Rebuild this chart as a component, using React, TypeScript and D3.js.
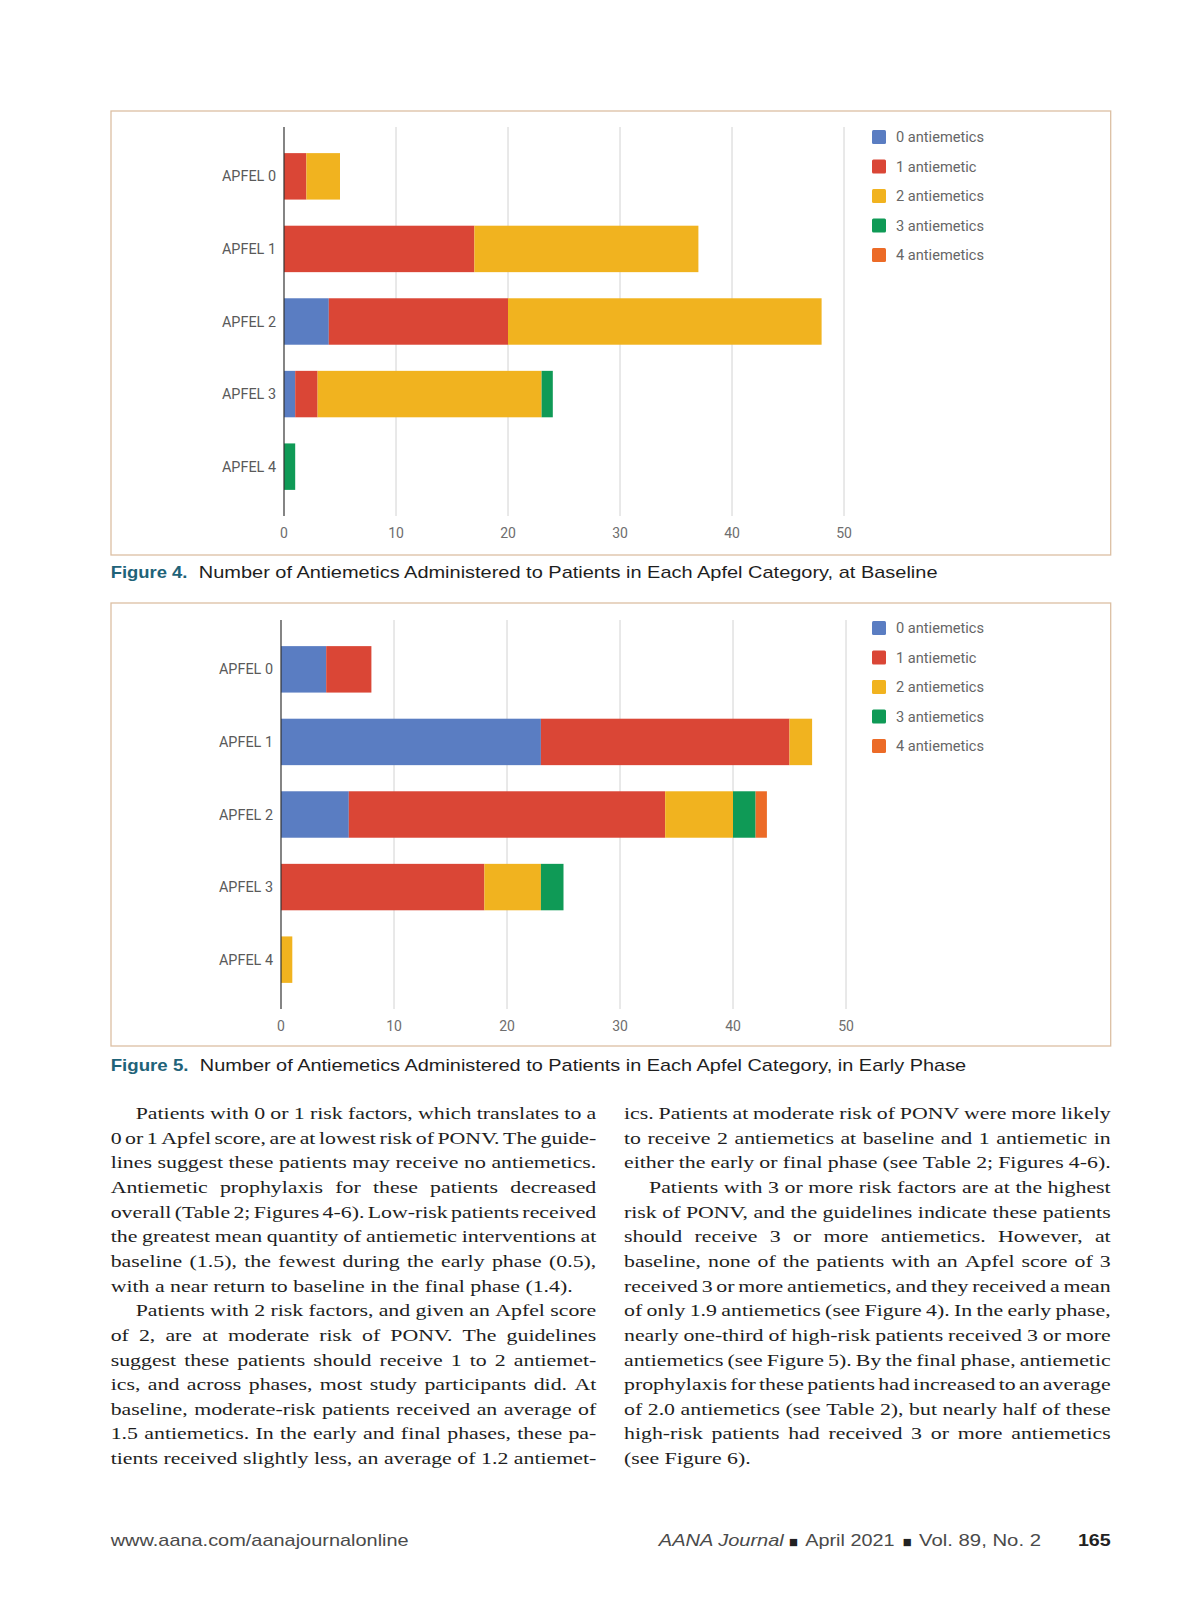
import * as React from 'react';
import * as d3 from 'd3';

// categories and series shared by both figures
const categories = ['APFEL 0', 'APFEL 1', 'APFEL 2', 'APFEL 3', 'APFEL 4'];
const seriesNames = ['0 antiemetics', '1 antiemetic', '2 antiemetics', '3 antiemetics', '4 antiemetics'];
const seriesColors = ['#5a7dc2', '#da4636', '#f1b31f', '#0f9a56', '#ec6b27'];
const xTicks = [0, 10, 20, 30, 40, 50];

// Figure 4 - baseline (one array per series, indexed by category)
const baselineZero = [0, 0, 4, 1, 0];
const baselineOne = [2, 17, 16, 2, 0];
const baselineTwo = [3, 20, 28, 20, 0];
const baselineThree = [0, 0, 0, 1, 1];
const baselineFour = [0, 0, 0, 0, 0];

// Figure 5 - early phase
const earlyZero = [4, 23, 6, 0, 0];
const earlyOne = [4, 22, 28, 18, 0];
const earlyTwo = [0, 2, 6, 5, 1];
const earlyThree = [0, 0, 2, 2, 0];
const earlyFour = [0, 0, 1, 0, 0];

const leftColumn: [string, boolean, boolean][] = [
  // text, indent, justify
  ['Patients with 0 or 1 risk factors, which translates to a', true, true],
  ['0 or 1 Apfel score, are at lowest risk of PONV. The guide-', false, true],
  ['lines suggest these patients may receive no antiemetics.', false, true],
  ['Antiemetic prophylaxis for these patients decreased', false, true],
  ['overall (Table 2; Figures 4-6). Low-risk patients received', false, true],
  ['the greatest mean quantity of antiemetic interventions at', false, true],
  ['baseline (1.5), the fewest during the early phase (0.5),', false, true],
  ['with a near return to baseline in the final phase (1.4).', false, false],
  ['Patients with 2 risk factors, and given an Apfel score', true, true],
  ['of 2, are at moderate risk of PONV. The guidelines', false, true],
  ['suggest these patients should receive 1 to 2 antiemet-', false, true],
  ['ics, and across phases, most study participants did. At', false, true],
  ['baseline, moderate-risk patients received an average of', false, true],
  ['1.5 antiemetics. In the early and final phases, these pa-', false, true],
  ['tients received slightly less, an average of 1.2 antiemet-', false, true],
];

const rightColumn: [string, boolean, boolean][] = [
  ['ics. Patients at moderate risk of PONV were more likely', false, true],
  ['to receive 2 antiemetics at baseline and 1 antiemetic in', false, true],
  ['either the early or final phase (see Table 2; Figures 4-6).', false, true],
  ['Patients with 3 or more risk factors are at the highest', true, true],
  ['risk of PONV, and the guidelines indicate these patients', false, true],
  ['should receive 3 or more antiemetics. However, at', false, true],
  ['baseline, none of the patients with an Apfel score of 3', false, true],
  ['received 3 or more antiemetics, and they received a mean', false, true],
  ['of only 1.9 antiemetics (see Figure 4). In the early phase,', false, true],
  ['nearly one-third of high-risk patients received 3 or more', false, true],
  ['antiemetics (see Figure 5). By the final phase, antiemetic', false, true],
  ['prophylaxis for these patients had increased to an average', false, true],
  ['of 2.0 antiemetics (see Table 2), but nearly half of these', false, true],
  ['high-risk patients had received 3 or more antiemetics', false, true],
  ['(see Figure 6).', false, false],
];

const chartFont = 'Roboto, "Noto Sans", sans-serif';
const sansFont = '"Liberation Sans", Arial, sans-serif';
const serifFont = '"Liberation Serif", "DejaVu Serif", serif';

interface Box { x: number; y: number; w: number; h: number; }
interface Plot { left: number; right: number; top: number; bottom: number; }

function StackedBarChart(props: { values: number[][]; box: Box; plot: Plot; legendTop: number }) {
  const { values, box, plot, legendTop } = props;
  const x = d3.scaleLinear().domain([0, 50]).range([plot.left, plot.right]);
  const y = d3.scaleBand<string>().domain(categories).range([plot.top, plot.bottom]).padding(0.36);

  const rows = categories.map((c, i) => {
    const r: any = { category: c };
    seriesNames.forEach((s, j) => { r[s] = values[j][i]; });
    return r;
  });
  const layers = d3.stack<any>().keys(seriesNames)(rows);

  return <g>
    <rect x={box.x} y={box.y} width={box.w} height={box.h} fill="#fff" stroke="#dcbfa3" strokeWidth={1.3} />
    {xTicks.filter((t) => t > 0).map((t) =>
      <line key={'g' + t} x1={x(t)} x2={x(t)} y1={plot.top} y2={plot.bottom} stroke="#d2d2d2" strokeWidth={1} />)}
    {layers.map((layer, j) => layer.map((d, i) => d[1] > d[0]
      ? <rect key={j + '-' + i} x={x(d[0])} y={y(categories[i])} width={x(d[1]) - x(d[0])}
          height={y.bandwidth()} fill={seriesColors[j]} />
      : null))}
    <line x1={plot.left} x2={plot.left} y1={plot.top} y2={plot.bottom} stroke="#333" strokeWidth={1.2} />
    {xTicks.map((t) =>
      <text key={'t' + t} x={x(t)} y={plot.bottom + 22} textAnchor="middle" fontFamily={chartFont}
        fontSize={14} fill="#6e6e6e">{t}</text>)}
    {categories.map((c) =>
      <text key={c} x={plot.left - 8} y={(y(c) as number) + y.bandwidth() / 2} dy="0.35em" textAnchor="end"
        fontFamily={chartFont} fontSize={14.4} fill="#5a5a5a">{c}</text>)}
    {seriesNames.map((s, j) => {
      const cy = legendTop + j * 29.5;
      return <g key={s}>
        <rect x={872} y={cy - 7} width={14} height={14} rx={1.5} fill={seriesColors[j]} />
        <text x={896} y={cy} dy="0.35em" fontFamily={chartFont} fontSize={14.6} fill="#666">{s}</text>
      </g>;
    })}
  </g>;
}

function Caption(props: { y: number; label: string; labelLen: number; text: string; textX: number; textLen: number }) {
  const { y, label, labelLen, text, textX, textLen } = props;
  return <g fontFamily={sansFont} fontSize={17}>
    <text x={110.7} y={y} fontWeight="bold" fill="#1f6379" textLength={labelLen} lengthAdjust="spacingAndGlyphs">{label}</text>
    <text x={textX} y={y} fill="#1e1e1e" textLength={textLen} lengthAdjust="spacingAndGlyphs">{text}</text>
  </g>;
}

let measureCtx: CanvasRenderingContext2D | null = null;
function measure(s: string, font: string) {
  if (!measureCtx) measureCtx = document.createElement('canvas').getContext('2d');
  measureCtx!.font = font;
  return measureCtx!.measureText(s).width;
}

function Column(props: { lines: [string, boolean, boolean][]; x: number; width: number; top: number; step: number }) {
  const { lines, x, width, top, step } = props;
  const fontSize = 17.5;
  const font = `${fontSize}px "Liberation Serif"`;
  // stretch glyphs so that an unjustified line matches the reference width
  const k = 462 / measure('with a near return to baseline in the final phase (1.4).', font);
  const indent = 25;
  return <g fontFamily={serifFont} fontSize={fontSize} fill="#1e1e1e">
    {lines.map(([line, ind, justify], li) => {
      const words = line.split(' ');
      const widths = words.map((w) => measure(w, font) * k);
      const start = x + (ind ? indent : 0);
      const total = d3.sum(widths);
      const gap = justify && words.length > 1
        ? (x + width - start - total) / (words.length - 1)
        : measure(' ', font) * k;
      let cx = start;
      const yy = top + li * step;
      return <g key={li}>
        {words.map((w, wi) => {
          const el = <text key={wi} x={cx} y={yy} textLength={widths[wi]} lengthAdjust="spacingAndGlyphs">{w}</text>;
          cx += widths[wi] + gap;
          return el;
        })}
      </g>;
    })}
  </g>;
}

export default function App() {
  return <svg width={1200} height={1606} style={{ position: 'absolute', left: 0, top: 0, background: '#fff' }}>
    <rect x={0} y={0} width={1200} height={1606} fill="#fff" />
    <StackedBarChart
      values={[baselineZero, baselineOne, baselineTwo, baselineThree, baselineFour]}
      box={{ x: 111, y: 111, w: 999.7, h: 444 }}
      plot={{ left: 284, right: 844, top: 127, bottom: 516 }}
      legendTop={137} />
    <Caption y={578} label="Figure 4." labelLen={76.8} textX={198.8} textLen={738.7}
      text="Number of Antiemetics Administered to Patients in Each Apfel Category, at Baseline" />
    <StackedBarChart
      values={[earlyZero, earlyOne, earlyTwo, earlyThree, earlyFour]}
      box={{ x: 111, y: 603, w: 999.7, h: 443 }}
      plot={{ left: 281, right: 846, top: 620, bottom: 1009 }}
      legendTop={628} />
    <Caption y={1071} label="Figure 5." labelLen={77.8} textX={199.8} textLen={766.4}
      text="Number of Antiemetics Administered to Patients in Each Apfel Category, in Early Phase" />

    <Column lines={leftColumn} x={110.7} width={485.6} top={1119} step={24.65} />
    <Column lines={rightColumn} x={624} width={486.7} top={1119} step={24.65} />

    <g fontFamily={sansFont} fontSize={17} fill="#4a4a4a">
      <text x={110.7} y={1546} textLength={298} lengthAdjust="spacingAndGlyphs">www.aana.com/aanajournalonline</text>
      <text x={658.8} y={1546} fontStyle="italic" textLength={125} lengthAdjust="spacingAndGlyphs">AANA Journal</text>
      <text x={789} y={1545} fontFamily='"DejaVu Sans", sans-serif' fontSize={9.5} fill="#222">■</text>
      <text x={805.3} y={1546} textLength={89.2} lengthAdjust="spacingAndGlyphs">April 2021</text>
      <text x={902.7} y={1545} fontFamily='"DejaVu Sans", sans-serif' fontSize={9.5} fill="#222">■</text>
      <text x={919} y={1546} textLength={122} lengthAdjust="spacingAndGlyphs">Vol. 89, No. 2</text>
      <text x={1077.9} y={1546} fontWeight="bold" fill="#222" textLength={32.8} lengthAdjust="spacingAndGlyphs">165</text>
    </g>
  </svg>;
}
